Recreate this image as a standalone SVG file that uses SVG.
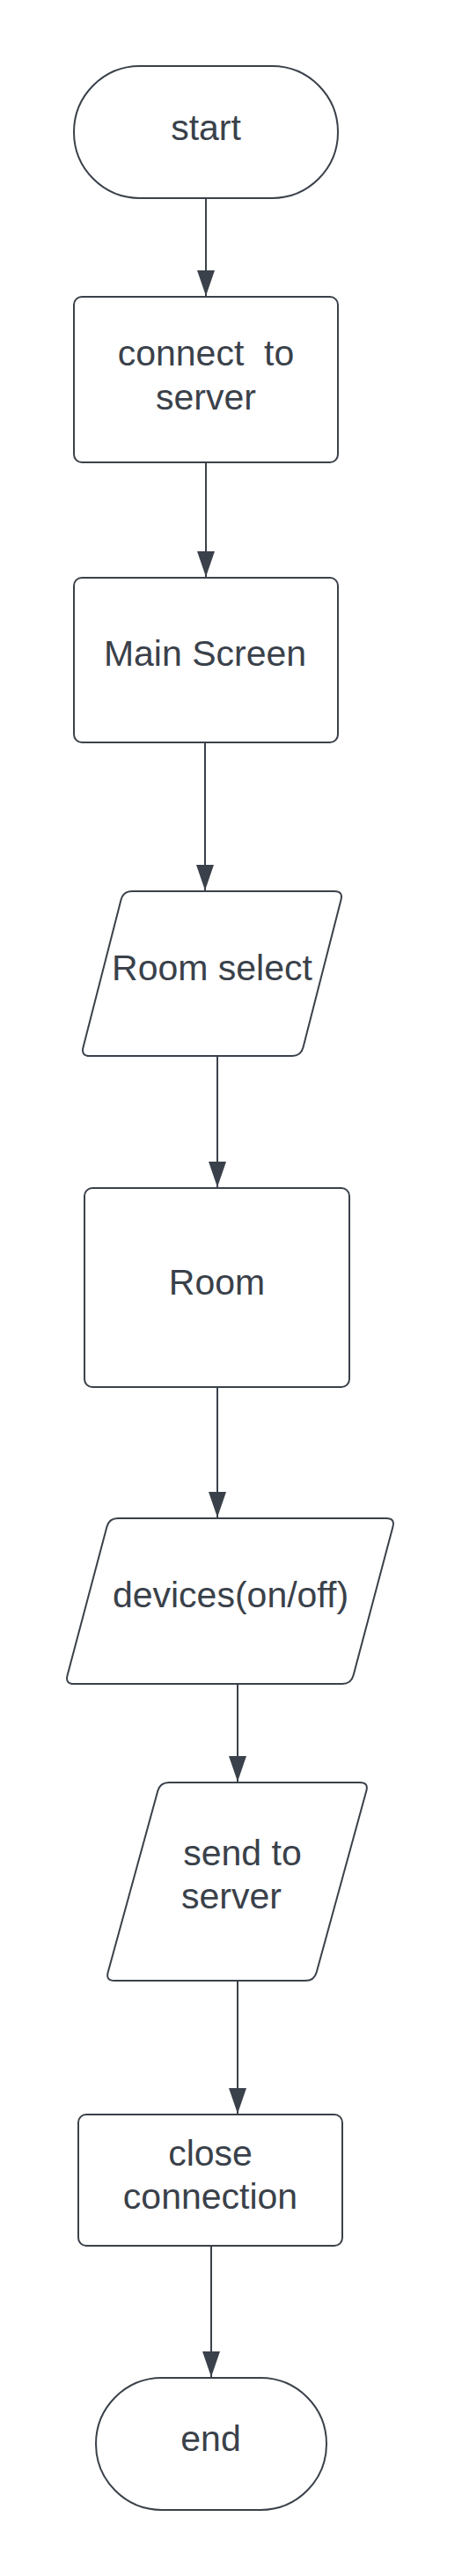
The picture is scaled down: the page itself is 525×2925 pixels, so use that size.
<svg xmlns="http://www.w3.org/2000/svg" width="525" height="2925" viewBox="0 0 525 2925">
<style>
.n{fill:#ffffff;stroke:#3a414a;stroke-width:2}
.c{fill:none;stroke:#3a414a;stroke-width:2}
.t{font-family:"Liberation Sans",Arial,sans-serif;font-size:41px;fill:#3a414a;text-anchor:middle;white-space:pre}
</style>
<defs>
<marker id="ah" markerUnits="userSpaceOnUse" markerWidth="29" markerHeight="20" refX="29" refY="10" orient="auto">
<path d="M0,0 L29,10 L0,20 Z" fill="#3a414a"/>
</marker>
</defs>
<rect width="525" height="2925" fill="#ffffff"/>
<g id="connectors">
<line class="c" x1="234" y1="225" x2="234" y2="336" marker-end="url(#ah)"/>
<line class="c" x1="234" y1="525" x2="234" y2="655" marker-end="url(#ah)"/>
<line class="c" x1="233" y1="843" x2="233" y2="1011" marker-end="url(#ah)"/>
<line class="c" x1="247" y1="1199" x2="247" y2="1348" marker-end="url(#ah)"/>
<line class="c" x1="247" y1="1575" x2="247" y2="1723" marker-end="url(#ah)"/>
<line class="c" x1="270" y1="1912" x2="270" y2="2023" marker-end="url(#ah)"/>
<line class="c" x1="270" y1="2249" x2="270" y2="2400" marker-end="url(#ah)"/>
<line class="c" x1="240" y1="2550" x2="240" y2="2699" marker-end="url(#ah)"/>
</g>
<g id="start">
<rect class="n" x="84" y="75" width="300" height="150" rx="75" ry="75"/>
<text class="t" x="234" y="159">start</text>
</g>
<g id="connect">
<rect class="n" x="84" y="337" width="300" height="188" rx="9" ry="9"/>
<text class="t" x="234" y="415">connect  to</text>
<text class="t" x="234" y="465">server</text>
</g>
<g id="main">
<rect class="n" x="84" y="656" width="300" height="187" rx="9" ry="9"/>
<text class="t" x="233" y="756">Main Screen</text>
</g>
<g id="roomselect">
<path class="n" d="M150,1012 H380 Q390,1012 387.5,1021.7 L344.5,1189.3 Q342,1199 332,1199 H102 Q92,1199 94.5,1189.3 L137.5,1021.7 Q140,1012 150,1012 Z"/>
<text class="t" x="241" y="1113">Room select</text>
</g>
<g id="room">
<rect class="n" x="96" y="1349" width="301" height="226" rx="9" ry="9"/>
<text class="t" x="246.5" y="1470">Room</text>
</g>
<g id="devices">
<path class="n" d="M134,1724 H439 Q449,1724 446.4,1733.7 L401.6,1902.3 Q399,1912 389,1912 H84 Q74,1912 76.6,1902.3 L121.4,1733.7 Q124,1724 134,1724 Z"/>
<text class="t" x="262" y="1825">devices(on/off)</text>
</g>
<g id="send">
<path class="n" d="M192,2024 H409 Q419,2024 416.3,2033.6 L359.7,2239.4 Q357,2249 347,2249 H130 Q120,2249 122.7,2239.4 L179.3,2033.6 Q182,2024 192,2024 Z"/>
<text class="t" x="275.5" y="2118">send to</text>
<text class="t" x="263" y="2167">server</text>
</g>
<g id="close">
<rect class="n" x="89" y="2401" width="300" height="149" rx="9" ry="9"/>
<text class="t" x="239" y="2459">close</text>
<text class="t" x="239" y="2508">connection</text>
</g>
<g id="end">
<rect class="n" x="109" y="2700" width="262" height="150" rx="75" ry="75"/>
<text class="t" x="239.5" y="2783">end</text>
</g>
</svg>
